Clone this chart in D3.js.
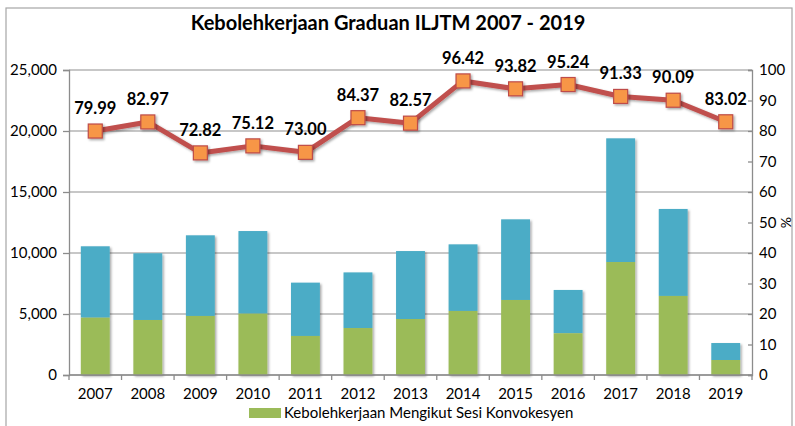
<!DOCTYPE html>
<html><head><meta charset="utf-8">
<script src="https://cdn.jsdelivr.net/npm/d3@7/dist/d3.min.js"></script>
<style>
body{margin:0;background:#fff}
svg{display:block}
text{font-family:Lato,"Open Sans",sans-serif;fill:#000}
</style>
</head><body>
<svg id="chart" width="795" height="426"></svg>
<script>
const years = ["2007","2008","2009","2010","2011","2012","2013","2014","2015","2016","2017","2018","2019"];
const employed = [4700,4510,4840,5030,3200,3850,4590,5250,6150,3420,9260,6480,1230];
const remaining = [5850,5470,6610,6770,4370,4560,5570,5460,6610,3550,10140,7130,1390];
const rate = [79.99,82.97,72.82,75.12,73.00,84.37,82.57,96.42,93.82,95.24,91.33,90.09,83.02];
const leftTicks = [0,5000,10000,15000,20000,25000];
const rightTicks = [0,10,20,30,40,50,60,70,80,90,100];
const titleText = "Kebolehkerjaan Graduan ILJTM 2007 - 2019";
const legendText = "Kebolehkerjaan Mengikut Sesi Konvokesyen";
const rightAxisTitle = "%";

const svg = d3.select("#chart");
const L = 69, R = 752, T = 70, B = 375;
const gridColor = "#b5b5b5";

const defs = svg.append("defs");
const f = defs.append("filter").attr("id","sh").attr("x","-20%").attr("y","-20%").attr("width","150%").attr("height","150%");
f.append("feDropShadow").attr("dx",1.5).attr("dy",1.5).attr("stdDeviation",1.2).attr("flood-color","#000").attr("flood-opacity",0.35);

// outer border
svg.append("rect").attr("x",6).attr("y",8).attr("width",786).attr("height",430)
  .attr("fill","none").attr("stroke","#a6a6a6").attr("stroke-width",1.2);

const x = d3.scaleBand().domain(years).range([L,R]).paddingInner(0.45).paddingOuter(0.225);
const xb = d3.scaleBand().domain(years).range([L,R]).padding(0);
const yL = d3.scaleLinear().domain([0,25000]).range([B,T]);
const yR = d3.scaleLinear().domain([0,100]).range([B,T]);

// gridlines
svg.append("g").selectAll("line").data(leftTicks).join("line")
  .attr("x1",L).attr("x2",R).attr("y1",d=>yL(d)).attr("y2",d=>yL(d))
  .attr("stroke",gridColor).attr("stroke-width",1.5);

// bars
const stacked = years.map((y,i)=>({y, g:employed[i], b:remaining[i]}));
const gb = svg.append("g").attr("filter","url(#sh)");
gb.selectAll("rect.b").data(stacked).join("rect").attr("class","b")
  .attr("x",d=>x(d.y)).attr("width",x.bandwidth())
  .attr("y",d=>yL(d.g+d.b)).attr("height",d=>yL(d.g)-yL(d.g+d.b))
  .attr("fill","#4BACC6");
gb.selectAll("rect.g").data(stacked).join("rect").attr("class","g")
  .attr("x",d=>x(d.y)).attr("width",x.bandwidth())
  .attr("y",d=>yL(d.g)).attr("height",d=>yL(0)-yL(d.g))
  .attr("fill","#9BBB59");

// left axis
const axL = svg.append("g").attr("transform",`translate(${L},0)`)
  .call(d3.axisLeft(yL).tickValues(leftTicks).tickFormat(d3.format(",")).tickSize(6).tickPadding(6));
axL.select(".domain").attr("stroke","#8c8c8c").attr("stroke-width",1.3);
axL.selectAll(".tick line").attr("stroke","#8c8c8c").attr("stroke-width",1.3);
axL.selectAll(".tick text").attr("font-size",15).attr("fill","#000").style("font-family","Lato");

// right axis
const axR = svg.append("g").attr("transform",`translate(${R},0)`)
  .call(d3.axisRight(yR).tickValues(rightTicks).tickSize(-4).tickPadding(6));
axR.select(".domain").attr("stroke","#8c8c8c").attr("stroke-width",1.3);
axR.selectAll(".tick line").attr("stroke","#8c8c8c").attr("stroke-width",1.3);
axR.selectAll(".tick text").attr("font-size",15).attr("fill","#000").attr("x",7).style("font-family","Lato");

svg.append("text").attr("transform",`translate(${781},${yR(50)}) rotate(90)`)
  .attr("text-anchor","middle").attr("font-size",14).text(rightAxisTitle);

// x axis
svg.append("line").attr("x1",L).attr("x2",R).attr("y1",B).attr("y2",B)
  .attr("stroke","#8c8c8c").attr("stroke-width",1.3);
const bounds = years.map(d=>xb(d)).concat([R]);
svg.append("g").selectAll("line").data(bounds).join("line")
  .attr("x1",d=>d).attr("x2",d=>d).attr("y1",B).attr("y2",B+5)
  .attr("stroke","#8c8c8c").attr("stroke-width",1.3);
svg.append("g").selectAll("text").data(years).join("text")
  .attr("x",d=>xb(d)+xb.bandwidth()/2).attr("y",399)
  .attr("text-anchor","middle").attr("font-size",15).text(d=>d);

// line
const pts = years.map((y,i)=>({y, v:rate[i]}));
const lineGen = d3.line().x(d=>x(d.y)+x.bandwidth()/2).y(d=>yR(d.v));
svg.append("path").datum(pts).attr("d",lineGen)
  .attr("fill","none").attr("stroke","#C0504D").attr("stroke-width",5)
  .attr("stroke-linejoin","round").attr("filter","url(#sh)");
const ms = 14;
svg.append("g").attr("filter","url(#sh)").selectAll("rect").data(pts).join("rect")
  .attr("x",d=>x(d.y)+x.bandwidth()/2-ms/2).attr("y",d=>yR(d.v)-ms/2)
  .attr("width",ms).attr("height",ms)
  .attr("fill","#F79646").attr("stroke","#BE4B48").attr("stroke-width",1.2);
svg.append("g").selectAll("text").data(pts).join("text")
  .attr("x",d=>x(d.y)+x.bandwidth()/2).attr("y",d=>yR(d.v)-17)
  .attr("text-anchor","middle").attr("font-size",16.5).attr("font-weight","bold")
  .text(d=>d3.format(".2f")(d.v));

// title
svg.append("text").attr("x",388).attr("y",30).attr("text-anchor","middle")
  .attr("font-size",20).attr("font-weight","bold").text(titleText);

// legend
svg.append("rect").attr("x",249).attr("y",408).attr("width",32).attr("height",10).attr("fill","#9BBB59");
svg.append("text").attr("x",284).attr("y",418).attr("font-size",15).text(legendText);
</script>
</body></html>
